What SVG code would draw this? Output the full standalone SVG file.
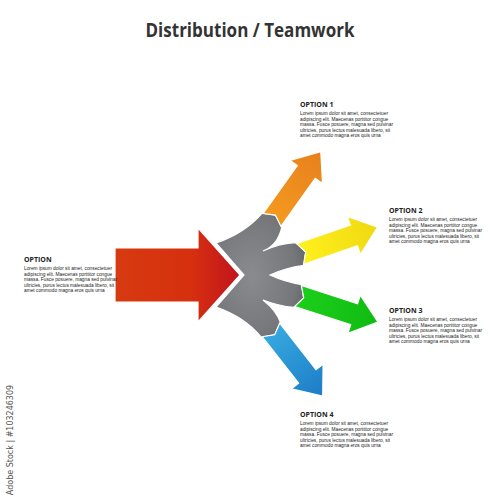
<svg xmlns="http://www.w3.org/2000/svg" width="500" height="500" viewBox="0 0 500 500">
<defs>
<style>
.title{font-family:"Open Sans","Liberation Sans",sans-serif;font-weight:bold;font-size:19px;fill:#333333}
.hd{font-family:"Open Sans","Liberation Sans",sans-serif;font-weight:bold;font-size:7px;fill:#222}
.bd{font-family:"Liberation Sans","Open Sans",sans-serif;font-size:4.8px;fill:#222}
.arr{stroke:#ffffff;stroke-width:1.2;stroke-linejoin:miter}
.wm{font-family:"DejaVu Sans","Liberation Sans",sans-serif;font-size:8px;fill:#555}
</style>
<linearGradient id="gRed" x1="0" y1="0" x2="1" y2="0"><stop offset="0" stop-color="#d73a10"/><stop offset="0.6" stop-color="#d6300f"/><stop offset="1" stop-color="#c2141e"/></linearGradient>
<linearGradient id="gOr" x1="0" y1="0" x2="1" y2="0"><stop offset="0" stop-color="#f39a20"/><stop offset="1" stop-color="#e8801c"/></linearGradient>
<linearGradient id="gYe" x1="0" y1="0" x2="1" y2="0"><stop offset="0" stop-color="#fff01c"/><stop offset="1" stop-color="#efd912"/></linearGradient>
<linearGradient id="gGr" x1="0" y1="0" x2="1" y2="0"><stop offset="0" stop-color="#1ccf1c"/><stop offset="1" stop-color="#10bb10"/></linearGradient>
<linearGradient id="gBl" x1="0" y1="0" x2="1" y2="0"><stop offset="0" stop-color="#36a9e0"/><stop offset="1" stop-color="#1d7cc6"/></linearGradient>
<radialGradient id="gGy" cx="0.4" cy="0.5" r="0.7"><stop offset="0" stop-color="#8a8b8f"/><stop offset="0.7" stop-color="#76777b"/><stop offset="1" stop-color="#5e5f63"/></radialGradient>
</defs>
<rect width="500" height="500" fill="#ffffff"/>
<text class="title" x="250" y="37" text-anchor="middle" textLength="209" lengthAdjust="spacingAndGlyphs">Distribution / Teamwork</text>
<g id="connectors">
<path id="hub" class="arr" fill="url(#gGy)" d="M216,243 Q245,233 262.2,213 L275.5,215.1 L281.8,227 Q278,245 263,251 Q280,243 296.1,242.6 L305.7,252 L303.9,265.4 Q285,268 270,275 Q285,282 301.7,284.6 L303.7,297.9 L294.3,307.4 Q278,306 263,300 Q276,310 280.5,322.6 L274.7,334.7 L261.5,337.4 Q245,317 216,307 L244,275 Z"/>
<polygon id="input" class="arr" fill="url(#gRed)" points="115,248 198,248 198,228 240,275 198,322 198,302 115,302"/>
<polygon class="arr" fill="url(#gOr)" transform="translate(272,220) rotate(-54.5)" points="0,-11 59,-11 59,-20 84,0 59,20 59,11 0,11 6,0"/>
<polygon class="arr" fill="url(#gYe)" transform="translate(300,254) rotate(-19)" points="0,-11 57,-11 57,-20 82,0 57,20 57,11 0,11 6,0"/>
<polygon class="arr" fill="url(#gGr)" transform="translate(298,296) rotate(18)" points="0,-11 59,-11 59,-20 84,0 59,20 59,11 0,11 6,0"/>
<polygon class="arr" fill="url(#gBl)" transform="translate(271,330) rotate(52)" points="0,-11 59,-11 59,-20 84,0 59,20 59,11 0,11 6,0"/>
</g>
<g id="option0">
<text class="hd" x="24" y="262">OPTION</text>
<text class="bd" x="24" y="270">Lorem ipsum dolor sit amet, consectetuer</text>
<text class="bd" x="24" y="275.6">adipiscing elit. Maecenas porttitor congue</text>
<text class="bd" x="24" y="281.2">massa. Fusce posuere, magna sed pulvinar</text>
<text class="bd" x="24" y="286.8">ultricies, purus lectus malesuada libero, sit</text>
<text class="bd" x="24" y="292.4">amet commodo magna eros quis urna</text>
</g>
<g id="option1">
<text class="hd" x="300" y="107">OPTION 1</text>
<text class="bd" x="300" y="115">Lorem ipsum dolor sit amet, consectetuer</text>
<text class="bd" x="300" y="120.6">adipiscing elit. Maecenas porttitor congue</text>
<text class="bd" x="300" y="126.2">massa. Fusce posuere, magna sed pulvinar</text>
<text class="bd" x="300" y="131.8">ultricies, purus lectus malesuada libero, sit</text>
<text class="bd" x="300" y="137.4">amet commodo magna eros quis urna</text>
</g>
<g id="option2">
<text class="hd" x="389" y="213">OPTION 2</text>
<text class="bd" x="389" y="221">Lorem ipsum dolor sit amet, consectetuer</text>
<text class="bd" x="389" y="226.6">adipiscing elit. Maecenas porttitor congue</text>
<text class="bd" x="389" y="232.2">massa. Fusce posuere, magna sed pulvinar</text>
<text class="bd" x="389" y="237.8">ultricies, purus lectus malesuada libero, sit</text>
<text class="bd" x="389" y="243.4">amet commodo magna eros quis urna</text>
</g>
<g id="option3">
<text class="hd" x="389" y="313">OPTION 3</text>
<text class="bd" x="389" y="321">Lorem ipsum dolor sit amet, consectetuer</text>
<text class="bd" x="389" y="326.6">adipiscing elit. Maecenas porttitor congue</text>
<text class="bd" x="389" y="332.2">massa. Fusce posuere, magna sed pulvinar</text>
<text class="bd" x="389" y="337.8">ultricies, purus lectus malesuada libero, sit</text>
<text class="bd" x="389" y="343.4">amet commodo magna eros quis urna</text>
</g>
<g id="option4">
<text class="hd" x="300" y="417">OPTION 4</text>
<text class="bd" x="300" y="425">Lorem ipsum dolor sit amet, consectetuer</text>
<text class="bd" x="300" y="430.6">adipiscing elit. Maecenas porttitor congue</text>
<text class="bd" x="300" y="436.2">massa. Fusce posuere, magna sed pulvinar</text>
<text class="bd" x="300" y="441.8">ultricies, purus lectus malesuada libero, sit</text>
<text class="bd" x="300" y="447.4">amet commodo magna eros quis urna</text>
</g>
<text class="wm" transform="translate(13,440) rotate(-90)" text-anchor="middle">Adobe Stock | #103246309</text>
</svg>
